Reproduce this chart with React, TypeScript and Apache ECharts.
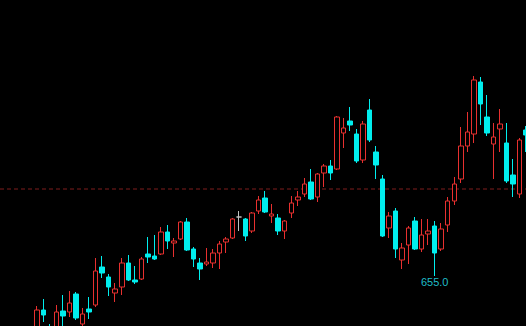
import React, { useEffect, useRef } from 'react';
import * as echarts from 'echarts';

// Candle values, in chart order
const opens = [
  627, 638, 628, 628, 637.5, 637, 646, 631, 638.5, 640.5,
  659.5, 654.5, 646.5, 649.5, 661.5, 653, 653.5, 666, 665, 666,
  677, 671.5, 673.5, 682, 668.5, 661.5, 661, 661.5, 666.5, 672,
  674, 684.5, 683.5, 677.5, 687.5, 694, 685, 684, 677.5, 686.5,
  693, 696, 702, 694.5, 706.5, 710, 708.5, 726.5, 732.5, 726,
  713, 738, 717, 703.5, 679, 687.5, 663, 670.5, 682.5, 668.5,
  676, 680, 668.5, 680.5, 692.5, 703.5, 720, 726, 752, 734.5,
  721, 728.5, 721.5, 705.5, 696, 728,
];
const closes = [
  638, 635.5, 623, 637, 635, 641.5, 634, 636, 637, 657.5,
  656.5, 649.5, 648.5, 661.5, 653, 652, 663.5, 664.5, 663.5, 677,
  672.5, 672.5, 682, 668, 663.5, 658.5, 662, 666.5, 671, 673.5,
  683.5, 684.5, 675, 686.5, 693, 687, 686, 677.5, 682.5, 691.5,
  694.5, 701, 693.5, 706, 710, 706.5, 734.5, 729, 730.5, 712.5,
  731, 723, 710.5, 675, 685, 668.5, 669, 679, 668.5, 675.5,
  677.5, 666.5, 678.5, 692.5, 701, 720, 727, 753, 741, 726.5,
  724.5, 731, 702.5, 701, 723, 725.5,
];
const lows = [
  625, 632, 620.5, 626, 629.5, 634.5, 633, 629, 633.5, 639.5,
  654, 645, 642, 645.5, 652.5, 651, 653, 661.5, 663, 665.5,
  668.5, 664.5, 673, 667.5, 659.5, 653, 660, 659, 658.5, 666.5,
  673.5, 677.5, 672.5, 676.5, 686, 686.5, 681.5, 675.5, 673.5, 684,
  690, 694.5, 693, 692, 699.5, 703, 708, 719, 727.5, 711.5,
  711.5, 722, 703.5, 674.5, 674, 664, 658.5, 661, 668, 667,
  670.5, 655, 667.5, 677, 690.5, 701.5, 717, 721.5, 730.5, 725,
  703.5, 717, 701.5, 694.5, 694, 717,
];
const highs = [
  640, 643.5, 631, 640.5, 645.5, 647.5, 647, 639, 644.5, 664,
  665, 656, 651.5, 664, 665.5, 660, 664.5, 674.5, 675.5, 679.5,
  680.5, 674, 682.5, 684, 669.5, 664, 669, 668.5, 672.5, 674.5,
  684, 687.5, 684, 687, 695, 697.5, 691, 686, 683, 695,
  697.5, 704, 708.5, 706.5, 711, 713, 735, 734, 739.5, 728.5,
  732.5, 743.5, 720, 705.5, 687, 689, 671.5, 680, 684.5, 683.5,
  683.5, 682.5, 681.5, 694.5, 704.5, 729.5, 737, 755, 754.5, 745.5,
  731.5, 738.5, 731.5, 713.5, 724, 730,
];
const categories = opens.map((_, i) => `D${i + 1}`);

const refPrice = 698.5; // dashed reference line
const labelIndex = 61; // candle carrying the low label
const yMin = 630;
const yMax = 793;

export default function App() {
  const ref = useRef<HTMLDivElement>(null);
  useEffect(() => {
    if (!ref.current) return;
    const chart = echarts.init(ref.current, null, { renderer: 'svg' });
    const data = opens.map((o, i) => [o, closes[i], lows[i], highs[i]]);
    chart.setOption({
      animation: false,
      backgroundColor: '#000000',
      grid: [
        { left: 33.74, top: 0, width: 495.5, height: 326 },
        { left: 0, right: 0, top: 0, bottom: 0 },
      ],
      xAxis: [
        { type: 'category', data: categories, gridIndex: 0, show: false, boundaryGap: true },
        { type: 'value', gridIndex: 1, min: 0, max: 1, show: false },
      ],
      yAxis: [
        { type: 'value', gridIndex: 0, min: yMin, max: yMax, show: false },
        { type: 'value', gridIndex: 1, min: yMin, max: yMax, show: false },
      ],
      series: [
        {
          type: 'line',
          xAxisIndex: 1,
          yAxisIndex: 1,
          data: [[0, refPrice], [1, refPrice]],
          symbol: 'none',
          silent: true,
          z: 1,
          lineStyle: { color: '#7e1c1c', width: 1, type: [4, 3] },
        },
        {
          type: 'candlestick',
          xAxisIndex: 0,
          yAxisIndex: 0,
          data,
          barWidth: 5,
          z: 2,
          itemStyle: {
            color: '#000000',
            color0: '#00eeee',
            borderColor: '#e8302f',
            borderColor0: '#00eeee',
            borderColorDoji: '#c0c0c0',
            borderWidth: 1,
          },
          markPoint: {
            symbol: 'circle',
            symbolSize: 1,
            itemStyle: { color: 'rgba(0,0,0,0)' },
            label: {
              show: true,
              position: 'bottom',
              distance: 0,
              color: '#1fbcc8',
              fontSize: 11,
              fontFamily: 'Liberation Sans',
              formatter: (p: any) => Number(p.value).toFixed(1),
            },
            data: [{ coord: [labelIndex, lows[labelIndex]], value: lows[labelIndex] }],
          },
        },
      ],
    });
    return () => chart.dispose();
  }, []);
  return (
    <div
      style={{
        position: 'fixed',
        left: 0,
        top: 0,
        width: 526,
        height: 326,
        overflow: 'hidden',
        background: '#000',
      }}
    >
      <div ref={ref} style={{ width: 530, height: 326 }} />
    </div>
  );
}
